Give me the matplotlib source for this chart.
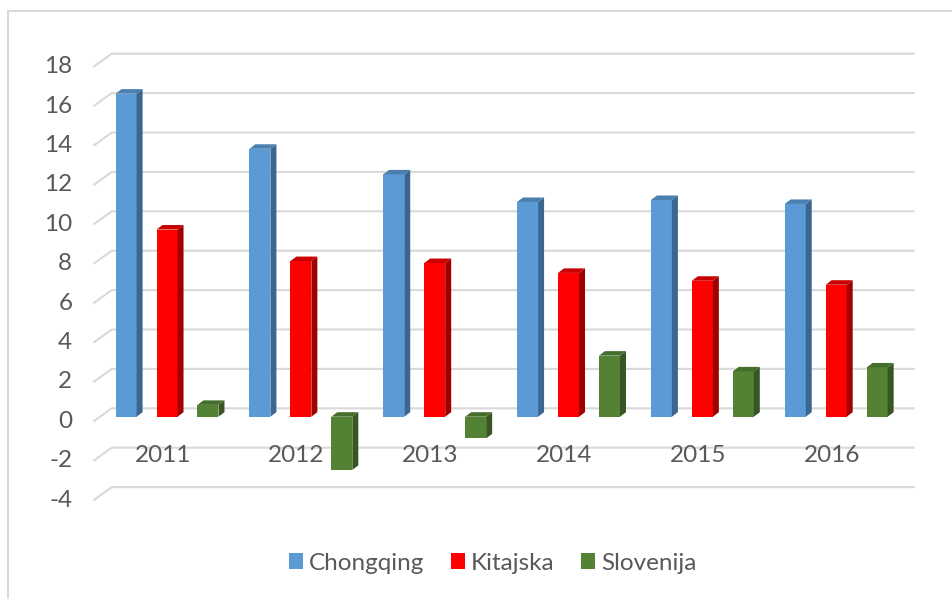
import matplotlib.pyplot as plt
from matplotlib.patches import Polygon, Patch, Rectangle
from matplotlib.transforms import offset_copy

years = ['2011', '2012', '2013', '2014', '2015', '2016']
chongqing = [16.4, 13.6, 12.3, 10.9, 11.0, 10.8]
kitajska = [9.5, 7.9, 7.8, 7.3, 6.9, 6.7]
slovenija = [0.6, -2.7, -1.1, 3.1, 2.3, 2.5]
series_names = ['Chongqing', 'Kitajska', 'Slovenija']
yticks = [-4, -2, 0, 2, 4, 6, 8, 10, 12, 14, 16, 18]

# front / side / top colours for the fake 3d bars
colors = [('#5B9BD5', '#3A6690', '#4A7FB0'),
          ('#FF0000', '#A00000', '#C80000'),
          ('#548235', '#375623', '#466E2B')]

plt.rcParams['font.family'] = ['Lato', 'DejaVu Sans']
text_color = '#595959'
grid_color = '#D9D9D9'
fs = 17.5

fig = plt.figure(figsize=(9.53, 5.99), dpi=100)
ax = fig.add_axes([0.10504, 0.17279, 0.84260, 0.72354])
ax.set_xlim(-0.5, 5.5)
ax.set_ylim(-4, 18)
ax.axis('off')

# pixel -> data unit helpers (axes geometry is fixed)
px_x = 803 / 6.0
px_y = 19.7


def dxu(p):
    return p / px_x


def dyu(p):
    return p / px_y


# gridlines: back wall + slanted floor edge on the left
x0, x1 = -0.5, 5.5
for v in yticks:
    ax.plot([x0 - dxu(6.8), x0 + dxu(11.6), x1 + dxu(11.6)],
            [v - dyu(4.9), v + dyu(8.4), v + dyu(8.4)],
            color=grid_color, lw=1.5, zorder=1, clip_on=False, solid_capstyle='butt')

# y labels
lab_tr = offset_copy(ax.get_yaxis_transform(), fig=fig, x=-27.8, y=-4.6, units='dots')
for v in yticks:
    ax.text(0, v, str(v), transform=lab_tr, ha='right', va='center',
            fontsize=fs, color=text_color)

# category labels
cat_tr = offset_copy(ax.transData, fig=fig, x=-4.3, y=-39.3, units='dots')
for i, yr in enumerate(years):
    ax.text(i, 0, yr, transform=cat_tr, ha='center', va='center',
            fontsize=fs, color=text_color, zorder=2)

# bars
width = 0.157
offsets = [-0.306, 0.0, 0.306]
ddx, ddy = dxu(6), dyu(4.5)
for s, vals in enumerate([chongqing, kitajska, slovenija]):
    front, side, top = colors[s]
    xs = [i + offsets[s] for i in range(len(years))]
    ax.bar(xs, vals, width=width, color=front, zorder=3)
    for x, v in zip(xs, vals):
        xl, xr = x - width / 2, x + width / 2
        lo, hi = min(0, v), max(0, v)
        ax.add_patch(Polygon([(xr, lo), (xr, hi), (xr + ddx, hi + ddy), (xr + ddx, lo + ddy)],
                             closed=True, fc=side, ec='none', zorder=3))
        ax.add_patch(Polygon([(xl, hi), (xr, hi), (xr + ddx, hi + ddy), (xl + ddx, hi + ddy)],
                             closed=True, fc=top, ec='none', zorder=3))

handles = [Patch(facecolor=c[0], edgecolor='none', label=n) for c, n in zip(colors, series_names)]
leg = fig.legend(handles=handles, loc='center', bbox_to_anchor=(0.517, 0.06), ncol=3,
                 frameon=False, fontsize=fs, handlelength=0.58, handleheight=0.58,
                 handletextpad=0.25, columnspacing=1.1)
for t in leg.get_texts():
    t.set_color(text_color)

# chart border (runs off the right/bottom edge like the screenshot)
fig.patches.append(Rectangle((8.5 / 953, -0.1), 1.2, (599 - 11) / 599 + 0.1,
                             transform=fig.transFigure, fill=False,
                             ec=grid_color, lw=1.5))

fig.savefig('out.png', dpi=100)
